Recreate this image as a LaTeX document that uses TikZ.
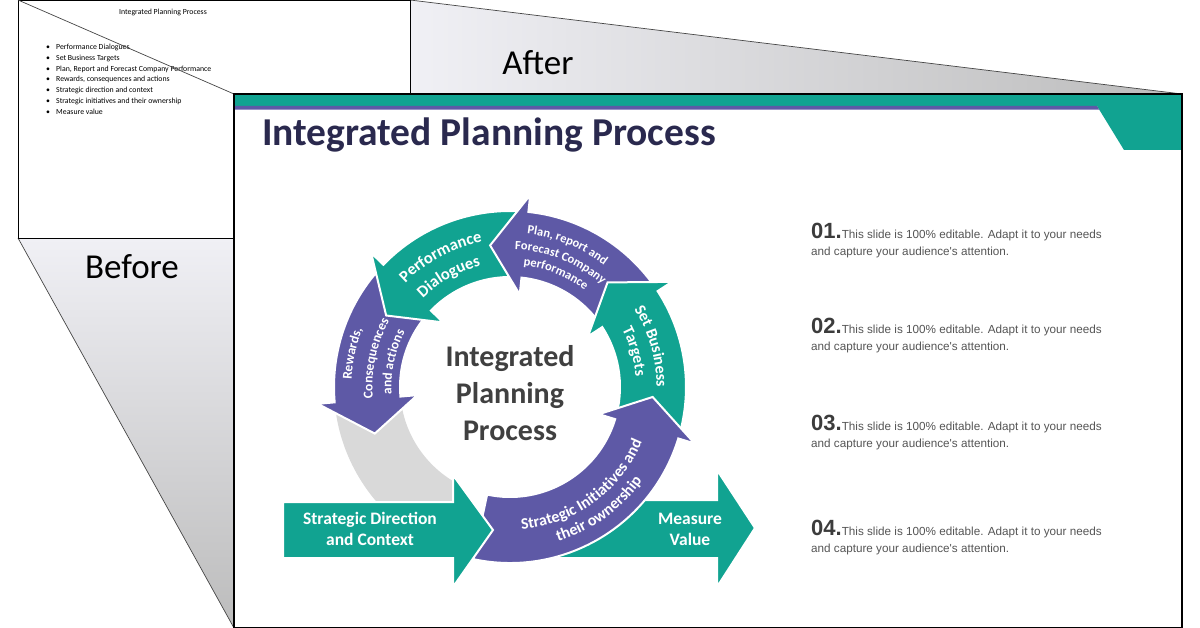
\documentclass[tikz,border=0pt]{standalone}
\usepackage{fontspec}
\setmainfont{Carlito}
\newfontfamily\arialf{Liberation Sans}
\usetikzlibrary{calc,decorations.text}
\definecolor{teal1}{RGB}{17,163,145}
\definecolor{purp}{RGB}{94,89,166}
\definecolor{navy}{RGB}{42,41,78}
\definecolor{ctext}{RGB}{64,64,64}
\definecolor{btext}{RGB}{85,85,85}
\definecolor{numc}{RGB}{60,60,60}
\definecolor{gl}{RGB}{240,240,245}
\definecolor{gd}{RGB}{188,188,188}
\definecolor{ringgray}{RGB}{217,217,217}
\definecolor{edgec}{RGB}{70,70,70}
\def\rIn{110}
\def\rOut{176}
\def\rMid{143}
\def\rHo{193}
\def\rHi{93}
\newcommand\ringarrow[4]{%
  \pgfmathsetmacro\aT{-(#2)}\pgfmathsetmacro\aB{-(#3)}\pgfmathsetmacro\aP{-(#4)}%
  \filldraw[fill=#1, arrowborder] ($(C)+(\aT:\rOut)$) arc[start angle=\aT, end angle=\aB, radius=\rOut]
    -- ($(C)+(\aB:\rHo)$) -- ($(C)+(\aP:\rMid)$) -- ($(C)+(\aB:\rHi)$) -- ($(C)+(\aB:\rIn)$)
    arc[start angle=\aB, end angle=\aT, radius=\rIn] -- cycle;}
\newcommand\curvetext[4]{%
  \pgfmathsetmacro\aF{-(#2)}\pgfmathsetmacro\aE{-(#3)}%
  \path[decorate, decoration={text along path, text align=center, text={#4}}]
    ($(C)+(\aF:#1)$) arc[start angle=\aF, end angle=\aE, radius=#1];}
\newcommand\lblA{\color{white}\bfseries\fontsize{16.5}{17}\selectfont}
\newcommand\lblS{\color{white}\bfseries\fontsize{16}{17}\selectfont}
\newcommand\lblB{\color{white}\bfseries\fontsize{13.5}{14}\selectfont}
\newcommand\lblC{\color{white}\bfseries\fontsize{12.5}{13}\selectfont}
\newcommand\lblD{\color{white}\bfseries\fontsize{16}{17}\selectfont}
\tikzset{
  arrowborder/.style={draw=white, line width=2pt, line join=miter},
  edge/.style={draw=edgec, line width=0.7pt},
  straightlbl/.style={text=white, font=\bfseries\fontsize{17.5}{21}\selectfont, align=center},
  smalltxt/.style={anchor=base west, inner sep=0pt, font=\fontsize{7.8}{9}\selectfont},
  numline/.style={anchor=base west, inner sep=0pt, text=btext, font=\arialf\fontsize{11.7}{13}\selectfont},
}
\begin{document}
\begin{tikzpicture}[x=1pt, y=-1pt]
\useasboundingbox (0,0) rectangle (1200,628);
\fill[white] (0,0) rectangle (1200,628);
% gradient wedges
\shade[left color=gl, right color=gd] (410,0) -- (1182,94) -- (410,94) -- cycle;
\draw[edge] (410,0) -- (1182,94);
\shade[top color=gl, bottom color=gd] (18,238) -- (234,238) -- (234,628) -- cycle;
\draw[edge] (18,238) -- (234,628);
% before slide
\draw[black, line width=0.8pt, fill=white] (18,0.4) rectangle (410,238);
\node[inner sep=0pt, font=\fontsize{7.8}{9}\selectfont] (btitle) at (163,12) {Integrated Planning Process};
\node[smalltxt] (b1) at (46,49.5) {\makebox[10pt][l]{•}Performance Dialogues};
\node[smalltxt] (b2) at (46,60.3) {\makebox[10pt][l]{•}Set Business Targets};
\node[smalltxt] (b3) at (46,71.1) {\makebox[10pt][l]{•}Plan, Report and Forecast Company Performance};
\node[smalltxt] (b4) at (46,81.9) {\makebox[10pt][l]{•}Rewards, consequences and actions};
\node[smalltxt] (b5) at (46,92.7) {\makebox[10pt][l]{•}Strategic direction and context};
\node[smalltxt] (b6) at (46,103.5) {\makebox[10pt][l]{•}Strategic initiatives and their ownership};
\node[smalltxt] (b7) at (46,114.3) {\makebox[10pt][l]{•}Measure value};
\draw[edge] (18,0) -- (234,94);
\node[font=\fontsize{35}{35}\selectfont] (after) at (538,63) {After};
\node[font=\fontsize{35}{35}\selectfont] (before) at (132,267) {Before};
% after slide
\fill[white] (234,94) rectangle (1182,627.5);
\fill[teal1] (234,94) -- (1182,94) -- (1182,150) -- (1124,150) -- (1097,106) -- (234,106) -- cycle;
\fill[purp] (234,106) -- (1097,106) -- (1099.2,109.6) -- (234,109.6) -- cycle;
\draw[black, line width=1.3pt] (234,94) rectangle (1182,627.5);
\node[anchor=base west, inner sep=0pt, text=navy, font=\bfseries\fontsize{39.5}{40}\selectfont] (title) at (262,146) {Integrated Planning Process};
% cycle
\coordinate (C) at (510,387);
\pgfmathsetmacro\gA{-189}\pgfmathsetmacro\gB{-243}
\fill[ringgray] ($(C)+(\gA:\rOut)$) arc[start angle=\gA, end angle=\gB, radius=\rOut] -- ($(C)+(\gB:\rIn)$) arc[start angle=\gB, end angle=\gA, radius=\rIn] -- cycle;
\ringarrow{purp}{140}{185}{199}
\ringarrow{teal1}{88}{136}{150}
\ringarrow{purp}{37}{84}{98}
\ringarrow{teal1}{-14}{33}{47}
\filldraw[fill=teal1, arrowborder] (545,500) -- (717,500) -- (717,470) -- (755,528) -- (717,587) -- (717,558) -- (545,558) -- cycle;
\ringarrow{purp}{-102}{-17}{-4}
\filldraw[fill=teal1, arrowborder] (283,502) -- (453,502) -- (453,475) -- (493,530) -- (453,587) -- (453,558) -- (283,558) -- cycle;
% curved labels
\curvetext{147.5}{178}{58}{|\lblA|Performance}
\curvetext{124.5}{179}{59}{|\lblA|Dialogues}
\curvetext{154}{128}{8}{|\lblC|Plan, report and}
\curvetext{137.5}{128}{8}{|\lblC|Forecast Company}
\curvetext{122}{128}{8}{|\lblC|performance}
\curvetext{146.5}{76}{-44}{|\lblS|Set Business}
\curvetext{126}{76}{-44}{|\lblS|Targets}
\curvetext{143}{-114}{6}{|\lblD|Strategic Initiatives and}
\curvetext{162}{-114}{6}{|\lblD|their ownership}
\curvetext{158.5}{228}{108}{|\lblB|Rewards,}
\curvetext{137.5}{228}{108}{|\lblB|Consequences}
\curvetext{118.5}{228}{108}{|\lblB|and actions}
\node[straightlbl] (sdl) at (370,529) {Strategic Direction\\and Context};
\node[straightlbl] (mvl) at (690,529) {Measure\\Value};
\node[text=ctext, align=center, font=\bfseries\fontsize{30}{37}\selectfont] (ctr) at (510,393) {Integrated\\Planning\\Process};
% right texts
\node[numline] (t1a) at (811,239) {{\fontsize{22}{22}\selectfont\bfseries\color{numc}01.}This slide is 100\% editable. Adapt it to your needs};
\node[numline] (t1b) at (811,256) {and capture your audience's attention.};
\node[numline] (t2a) at (811,334) {{\fontsize{22}{22}\selectfont\bfseries\color{numc}02.}This slide is 100\% editable. Adapt it to your needs};
\node[numline] (t2b) at (811,351) {and capture your audience's attention.};
\node[numline] (t3a) at (811,430) {{\fontsize{22}{22}\selectfont\bfseries\color{numc}03.}This slide is 100\% editable. Adapt it to your needs};
\node[numline] (t3b) at (811,447) {and capture your audience's attention.};
\node[numline] (t4a) at (811,535) {{\fontsize{22}{22}\selectfont\bfseries\color{numc}04.}This slide is 100\% editable. Adapt it to your needs};
\node[numline] (t4b) at (811,552) {and capture your audience's attention.};
\end{tikzpicture}
\end{document}
